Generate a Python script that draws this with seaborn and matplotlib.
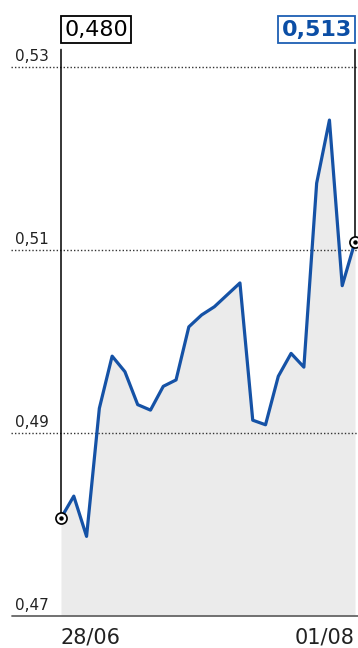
import matplotlib
matplotlib.use("Agg")
import matplotlib.pyplot as plt
import seaborn as sns
import numpy as np
import pandas as pd

# ---- data ----
values = [0.4807, 0.4831, 0.4787, 0.4927, 0.4984, 0.4967, 0.4931, 0.4925,
          0.4951, 0.4958, 0.5016, 0.5029, 0.5038, 0.5051, 0.5064, 0.4914,
          0.4909, 0.4962, 0.4987, 0.4972, 0.5173, 0.5242, 0.5061, 0.5109]
x_labels = ["28/06", "01/08"]
y_ticks = [0.47, 0.49, 0.51, 0.53]
y_tick_labels = ["0,47", "0,49", "0,51", "0,53"]
start_label = "0,480"
end_label = "0,513"

LINE = "#1552a6"
FILL = "#ebebeb"

df = pd.DataFrame({"i": np.arange(len(values)), "v": values})
n = len(values)

sns.set_style("white")
plt.rcParams["font.family"] = ["DejaVu Sans"]

fig = plt.figure(figsize=(3.58, 6.48), dpi=100)
W, H = 358, 648
ax = fig.add_axes([61 / W, 32 / H, 294 / W, 549 / H])
ax.set_xlim(0, n - 1)
ax.set_ylim(y_ticks[0], y_ticks[-1])
for s in ax.spines.values():
    s.set_visible(False)

# fill + line
ax.fill_between(df["i"], df["v"], y_ticks[0], color=FILL, lw=0, zorder=1)
sns.lineplot(data=df, x="i", y="v", ax=ax, color=LINE, lw=2.3, zorder=4,
             clip_on=False)

# gridlines (extend beyond axes)
for yv in y_ticks[1:]:
    ax.axhline(yv, xmin=-0.17, xmax=1.01, color="#333333", lw=1.0,
               ls=(0, (1, 1.5)), clip_on=False, zorder=2)
ax.axhline(y_ticks[0], xmin=-0.165, xmax=1.01, color="#666666", lw=1.3,
           clip_on=False, zorder=3)

# y labels
for yv, lab in zip(y_ticks, y_tick_labels):
    ax.annotate(lab, xy=(-0.157, yv), xycoords=ax.get_yaxis_transform(),
                xytext=(0, 2.5), textcoords="offset points",
                ha="left", va="bottom", fontsize=11, color="#222222")
ax.set_yticks([])

# x ticks
ax.set_xticks([0, n - 1])
ax.set_xticklabels(x_labels, fontsize=15, color="#222222")
ax.tick_params(axis="x", direction="in", length=6, width=1, color="#555555", pad=8)
tl = ax.get_xticklabels()
tl[0].set_ha("left")
tl[-1].set_ha("right")
ax.set_xlabel("")
ax.set_ylabel("")

# connector lines
for xi in [0, n - 1]:
    ax.annotate("", xy=(xi, values[xi]), xycoords="data",
                xytext=(xi, 1.032), textcoords=ax.get_xaxis_transform(),
                arrowprops=dict(arrowstyle="-", color="black", lw=1.1,
                                shrinkA=0, shrinkB=0), zorder=3)

# end markers
for xi in [0, n - 1]:
    ax.plot([xi], [values[xi]], marker="o", ms=8, mfc="white", mec="black",
            mew=1.2, clip_on=False, zorder=6)
    ax.plot([xi], [values[xi]], marker="o", ms=2.2, mfc="black", mec="black",
            clip_on=False, zorder=7)

# value boxes
ax.annotate(start_label, xy=(0, 1.068), xycoords=ax.get_xaxis_transform(),
            xytext=(2.4, 0), textcoords="offset points", ha="left", va="center",
            fontsize=16, color="black",
            bbox=dict(boxstyle="square,pad=0.15", fc="white", ec="black", lw=1.3))
ax.annotate(end_label, xy=(n - 1, 1.068), xycoords=ax.get_xaxis_transform(),
            xytext=(-2.4, 0), textcoords="offset points", ha="right", va="center",
            fontsize=16, fontweight="bold", color="#0b4ea5",
            bbox=dict(boxstyle="square,pad=0.15", fc="white", ec="#1e5fb3", lw=1.3))

fig.savefig("out.png", dpi=100)
